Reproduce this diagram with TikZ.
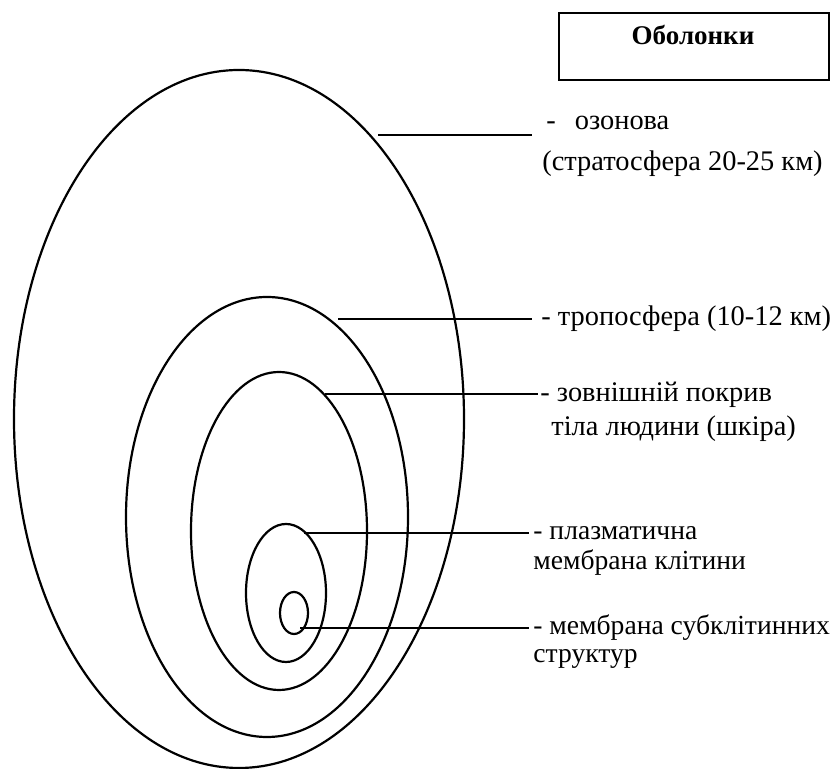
\documentclass[tikz,border=0pt]{standalone}
\usepackage{fontspec}
\setmainfont{Liberation Serif}
\usetikzlibrary{shapes.geometric}
\tikzset{
  shell/.style={draw, ellipse, line width=1.1pt, inner sep=0pt},
  lead/.style={line width=1.1pt},
  lbl/.style={anchor=west, inner sep=0pt, font=\fontsize{14.2}{16}\selectfont},
  lbls/.style={anchor=west, inner sep=0pt, font=\fontsize{13.8}{16}\selectfont},
}
\begin{document}
\begin{tikzpicture}[x=0.5pt, y=-0.5pt]
\useasboundingbox (0,0) rectangle (832,769);
% title box
\node[draw, line width=1.1pt, minimum width=135pt, minimum height=33.5pt, anchor=north west, inner sep=0pt] (box) at (558,12) {};
\node[inner sep=0pt, font=\fontsize{13.5}{15}\selectfont\bfseries] (title) at (693,35) {Оболонки};
% shells
\node[shell, minimum width=225pt, minimum height=349pt] (e1) at (239,419) {};
\node[shell, minimum width=141pt, minimum height=220pt] (e2) at (267,517) {};
\node[shell, minimum width=88pt, minimum height=159pt] (e3) at (279,531) {};
\node[shell, minimum width=40pt, minimum height=69pt] (e4) at (286,593) {};
\node[shell, minimum width=14pt, minimum height=21pt] (e5) at (294,613) {};
% leader ends
\coordinate (s1) at (378,135); \coordinate (t1) at (532,135);
\coordinate (s2) at (338,319); \coordinate (t2) at (532,319);
\coordinate (s3) at (325,394); \coordinate (t3) at (538,394);
\coordinate (s4) at (304,533); \coordinate (t4) at (529,533);
\coordinate (s5) at (300,628); \coordinate (t5) at (529,628);
\draw[lead] (s1) -- (t1);
\draw[lead] (s2) -- (t2);
\draw[lead] (s3) -- (t3);
\draw[lead] (s4) -- (t4);
\draw[lead] (s5) -- (t5);
% labels
\node[lbl] (l1a) at (546,123) {-\hspace{9.5pt}озонова};
\node[lbl] (l1b) at (542,164) {(стратосфера 20-25 км)};
\node[lbl] (l2) at (541,319) {- тропосфера (10-12 км)};
\node[lbl] (l3a) at (540,395) {- зовнішній покрив};
\node[lbl] (l3b) at (551,429) {тіла людини (шкіра)};
\node[lbls] (l4a) at (533,533) {- плазматична};
\node[lbls] (l4b) at (533,563) {мембрана клітини};
\node[lbls] (l5a) at (533,628) {- мембрана субклітинних};
\node[lbls] (l5b) at (533,659) {структур};
\end{tikzpicture}
\end{document}
